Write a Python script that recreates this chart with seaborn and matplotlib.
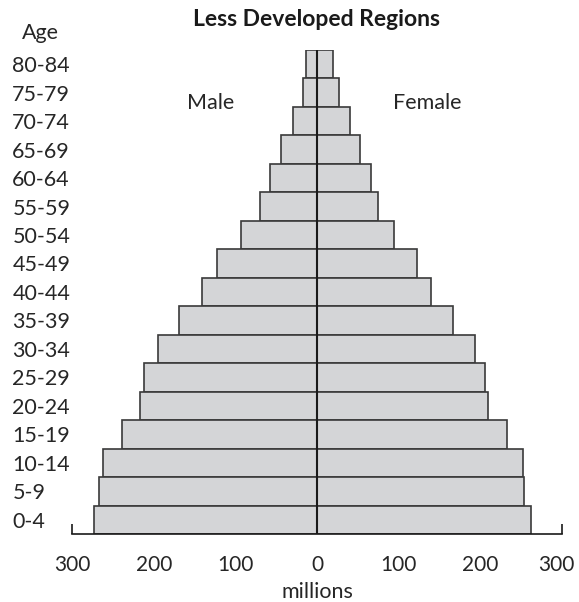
from matplotlib import pyplot as plt
from matplotlib.transforms import ScaledTranslation
import seaborn as sns
import pandas as pd

ages = ['0-4', '5-9', '10-14', '15-19', '20-24', '25-29', '30-34', '35-39',
        '40-44', '45-49', '50-54', '55-59', '60-64', '65-69', '70-74',
        '75-79', '80-84']
male = [273, 267, 262, 239, 217, 212, 195, 169, 141, 122, 93, 70, 58, 44,
        30, 17, 13]
female = [262, 254, 252, 232, 209, 206, 193, 167, 139, 123, 94, 75, 66, 53,
          40, 27, 20]
xticks = [-300, -200, -100, 0, 100, 200, 300]

FILL = '#d4d5d7'
EDGE = '#3a3a3a'


def plot():
    sns.set_style('white')
    plt.rcParams['font.family'] = ['Lato', 'DejaVu Sans']

    df = pd.DataFrame({'age': ages,
                       'male': [-v for v in male],
                       'female': female})
    order = ages[::-1]

    fig = plt.figure(figsize=(5.79, 6.02), dpi=100)
    ax = fig.add_axes([0.1244, 0.1130, 0.8463, 0.8040])

    for col in ['male', 'female']:
        sns.barplot(data=df, x=col, y='age', order=order, orient='h',
                    width=1.0, color=FILL, edgecolor=EDGE, linewidth=1.2,
                    saturation=1, errorbar=None, ax=ax)

    ax.axvline(0, color='#1a1a1a', lw=1.5, zorder=5)
    ax.set_xlim(-300, 300)
    ax.set_ylim(len(ages) - 0.5, -0.5)

    for s in ['top', 'right', 'left']:
        ax.spines[s].set_visible(False)
    ax.spines['bottom'].set_color('#1a1a1a')
    ax.spines['bottom'].set_linewidth(1.2)

    ax.set_xticks(xticks, [str(abs(t)) for t in xticks])
    ax.tick_params(axis='x', direction='in', length=7, width=1.2,
                   color='#1a1a1a', labelsize=15, pad=15, bottom=True)
    ax.tick_params(axis='y', length=0, labelsize=15.5, pad=43)
    for lab in ax.get_yticklabels():
        lab.set_horizontalalignment('left')
    # nudge the rightmost tick label so it stays inside the figure
    last = ax.get_xticklabels()[-1]
    last.set_transform(last.get_transform()
                       + ScaledTranslation(-4 / 72, 0, fig.dpi_scale_trans))

    ax.set_ylabel('')
    ax.set_xlabel('millions', fontsize=15.5, labelpad=5)

    fig.text(0.5466, 0.968, 'Less Developed Regions', ha='center',
             va='center', fontsize=16.5, fontweight='bold', color='#1a1a1a')
    fig.text(0.069, 0.945, 'Age', ha='center', va='center', fontsize=15.5)
    fig.text(0.363, 0.829, 'Male', ha='center', va='center', fontsize=15.5)
    fig.text(0.738, 0.829, 'Female', ha='center', va='center', fontsize=15.5)

    plt.savefig('out.png', dpi=100)


if __name__ == "__main__":
    plot()
